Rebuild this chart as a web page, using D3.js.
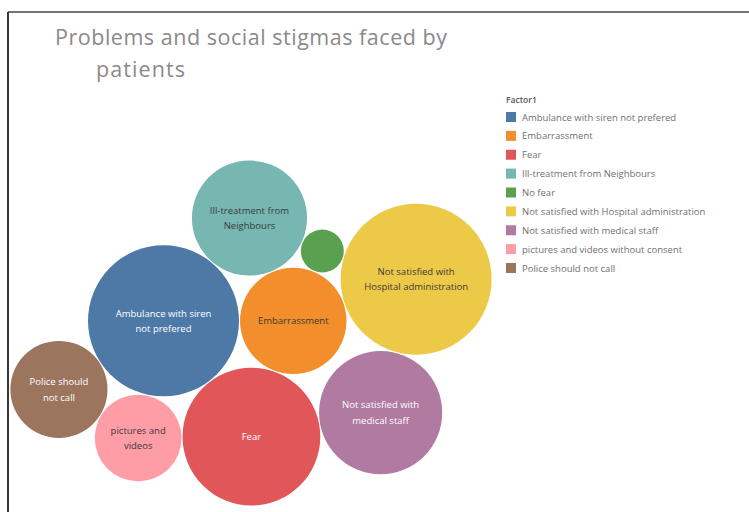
<!DOCTYPE html>
<html><head><meta charset="utf-8">
<script src="https://cdn.jsdelivr.net/npm/d3@7"></script>
<style>
body{margin:0;background:#fff;}
svg{display:block;font-family:"Open Sans",sans-serif;}
</style>
</head><body>
<svg id="chart" width="749" height="512"></svg>
<script>
// ---- data ----
const categories = [
  "Ambulance with siren not prefered",
  "Embarrassment",
  "Fear",
  "Ill-treatment from Neighbours",
  "No fear",
  "Not satisfied with Hospital administration",
  "Not satisfied with medical staff",
  "pictures and videos without consent",
  "Police should not call"
];
const counts = [12, 6, 10, 7, 1, 12, 8, 4, 5];
const colors = ["#4e79a7","#f28e2b","#e15759","#76b7b2","#59a14f","#edc948","#b07aa1","#ff9da7","#9c755f"];
const bubbleLabels = [
  ["Ambulance with siren","not prefered"],
  ["Embarrassment"],
  ["Fear"],
  ["Ill-treatment from","Neighbours"],
  [],
  ["Not satisfied with","Hospital administration"],
  ["Not satisfied with","medical staff"],
  ["pictures and","videos"],
  ["Police should","not call"]
];
const darkLabel = [false, true, false, true, false, true, false, true, false];
const titleLines = ["Problems and social stigmas faced by", "patients"];
const legendTitle = "Factor1";
// packing order: each bubble is set tangent to two bubbles placed before it
const tangentTo = [null, [0], [0,1], [0,1], [3,1], [4,1], [5,2], [2,0], [7,0]];

// ---- layout ----
const svg = d3.select("#chart");
const W = 749, H = 512;

// frame
svg.append("line").attr("x1",8).attr("x2",W).attr("y1",12).attr("y2",12)
  .attr("stroke","#444").attr("stroke-width",1.6);
svg.append("line").attr("x1",8).attr("x2",8).attr("y1",12).attr("y2",H)
  .attr("stroke","#222").attr("stroke-width",1.8);

// title
const title = svg.append("text").attr("fill","#8a8a8a").attr("font-size",21.5);
title.append("tspan").attr("x",55).attr("y",45).attr("textLength",392)
  .attr("lengthAdjust","spacing").text(titleLines[0]);
title.append("tspan").attr("x",96).attr("y",77).attr("textLength",89)
  .attr("lengthAdjust","spacing").text(titleLines[1]);

const r = d3.scaleSqrt().domain([0, d3.max(counts)]).range([0, 76]);

const nodes = categories.map((c, i) => ({name: c, value: counts[i], r: r(counts[i]), i}));

function overlaps(p, rr, placed) {
  return placed.some(q => Math.hypot(p.x - q.x, p.y - q.y) < rr + q.r - 1);
}
function tangentCandidates(a, b, rc) {
  const dx = b.x - a.x, dy = b.y - a.y, d = Math.hypot(dx, dy);
  const ra = a.r + rc, rb = b.r + rc;
  const t = (ra*ra - rb*rb + d*d) / (2*d);
  const h = Math.sqrt(Math.max(0, ra*ra - t*t));
  const ux = dx/d, uy = dy/d;
  const mx = a.x + ux*t, my = a.y + uy*t;
  return [{x: mx - uy*h, y: my + ux*h}, {x: mx + uy*h, y: my - ux*h}];
}
const placed = [];
nodes.forEach((n, i) => {
  if (i === 0) { n.x = 0; n.y = 0; }
  else if (i === 1) { const a = nodes[tangentTo[1][0]]; n.x = a.x + a.r + n.r; n.y = a.y; }
  else {
    const [ai, bi] = tangentTo[i];
    const cands = tangentCandidates(nodes[ai], nodes[bi], n.r);
    const ok = cands.filter(p => !overlaps(p, n.r, placed));
    const p = ok.length ? ok[0] : cands[0];
    n.x = p.x; n.y = p.y;
  }
  placed.push(n);
});
const x0 = d3.min(nodes, d => d.x - d.r), x1 = d3.max(nodes, d => d.x + d.r);
const y0 = d3.min(nodes, d => d.y - d.r), y1 = d3.max(nodes, d => d.y + d.r);
const packCx = 251, packCy = 333;
const g = svg.append("g")
  .attr("transform", `translate(${packCx - (x0 + x1)/2},${packCy - (y0 + y1)/2})`);

const bub = g.selectAll("g.b").data(nodes).join("g").attr("class","b")
  .attr("transform", d => `translate(${d.x},${d.y})`);
bub.append("circle").attr("r", d => d.r - 0.5)
  .attr("fill", d => colors[d.i]);
bub.each(function(d) {
  const lines = bubbleLabels[d.i];
  const lh = 15.5;
  const t = d3.select(this).append("text")
    .attr("text-anchor","middle").attr("font-size",9.5)
    .attr("fill", darkLabel[d.i] ? "#3a3a3a" : "#fff");
  lines.forEach((l, k) => {
    t.append("tspan").attr("x",0)
      .attr("y", (k - (lines.length - 1)/2) * lh + 3.5).text(l);
  });
});

// legend
const lg = svg.append("g").attr("transform","translate(506,0)");
lg.append("text").attr("x",0).attr("y",103).attr("font-size",8.5)
  .attr("font-weight","600").attr("fill","#555").text(legendTitle);
const ly = d3.scalePoint().domain(categories).range([117, 268]);
const item = lg.selectAll("g.li").data(categories).join("g").attr("class","li")
  .attr("transform", d => `translate(0,${ly(d)})`);
item.append("rect").attr("x",0).attr("y",-5).attr("width",10).attr("height",10)
  .attr("fill", (d, i) => colors[i]);
item.append("text").attr("x",16).attr("y",3.5).attr("font-size",9.5)
  .attr("fill","#707070").text(d => d);
</script>
</body></html>
